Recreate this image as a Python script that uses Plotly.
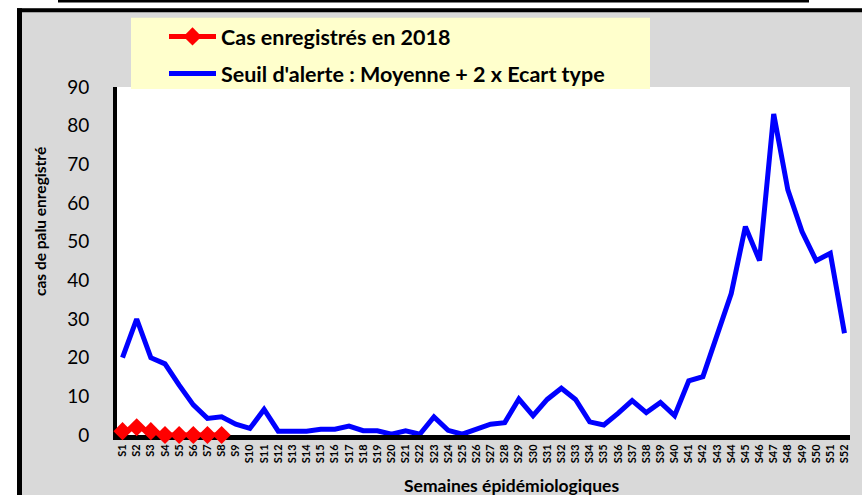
import plotly.graph_objects as go

weeks = [f"S{i}" for i in range(1, 53)]

cas_2018 = [1, 2, 1, 0, 0, 0, 0, 0]

seuil_alerte = [20, 30, 20, 18.4, 12.9, 7.8, 4.3, 4.7, 2.8, 1.7,
                6.6, 1.0, 1.0, 1.0, 1.5, 1.5, 2.3, 1.1, 1.1, 0.2,
                1.1, 0.2, 4.7, 1.2, 0.2, 1.6, 2.8, 3.2, 9.3, 5.0,
                9.2, 12.1, 9.2, 3.4, 2.6, 5.6, 8.9, 5.8, 8.4, 5.0,
                14.0, 15.1, 25.4, 36.6, 53.9, 45.1, 83.0, 63.4, 52.6, 45.1,
                47.0, 26.3]

W, H = 862, 495
L, R, T, B = 117, 12, 87, 60
PW = W - L - R
PH = H - T - B


def px(x):
    return (x - L) / PW


def py(y):
    return (H - B - y) / PH


fig = go.Figure()

fig.add_trace(go.Scatter(
    x=weeks[:len(cas_2018)], y=cas_2018, mode="lines+markers",
    name="Cas enregistrés en 2018",
    line=dict(color="#FF0000", width=5),
    marker=dict(symbol="diamond", size=14, color="#FF0000"),
    cliponaxis=False, legendgroup="a",
))
fig.add_trace(go.Scatter(
    x=weeks, y=seuil_alerte, mode="lines",
    name="Seuil d'alerte : Moyenne + 2 x Ecart type",
    line=dict(color="#0000FF", width=5),
    legendgroup="b",
))

shapes = [
    # white outside area
    dict(type="rect", xref="paper", yref="paper", x0=px(-5), x1=px(17), y0=py(500), y1=py(-5),
         fillcolor="white", line_width=0, layer="above"),
    dict(type="rect", xref="paper", yref="paper", x0=px(-5), x1=px(870), y0=py(8.3), y1=py(-5),
         fillcolor="white", line_width=0, layer="above"),
    # top page line
    dict(type="line", xref="paper", yref="paper", x0=px(58), x1=px(809), y0=py(1.2), y1=py(1.2),
         line=dict(color="black", width=2.5), layer="above"),
    # gray box borders
    dict(type="line", xref="paper", yref="paper", x0=px(17), x1=px(870), y0=py(10.3), y1=py(10.3),
         line=dict(color="black", width=4), layer="above"),
    dict(type="line", xref="paper", yref="paper", x0=px(19.5), x1=px(19.5), y0=py(8.3), y1=py(500),
         line=dict(color="black", width=5), layer="above"),
    # legend box
    dict(type="rect", xref="paper", yref="paper", x0=px(131), x1=px(650), y0=py(89), y1=py(17.7),
         fillcolor="#FFFFCC", line_width=0, layer="above"),
]

annotations = [
    dict(text="cas de palu enregistré", xref="paper", yref="paper",
         x=px(40), y=py(222), xanchor="center", yanchor="middle", showarrow=False,
         textangle=-90, font=dict(family="Lato", size=15.5, color="black", weight="bold")),
    dict(text="Semaines épidémiologiques", xref="paper", yref="paper",
         x=px(511), y=py(485), xanchor="center", yanchor="middle", showarrow=False,
         font=dict(family="Lato", size=17.5, color="black", weight="bold")),
]

fig.update_layout(
    width=W, height=H,
    margin=dict(l=L, r=R, t=T, b=B),
    paper_bgcolor="#D9D9D9",
    plot_bgcolor="white",
    showlegend=True,
    hovermode=False,
    legend=dict(
        x=px(164), y=py(16), xanchor="left", yanchor="top",
        bgcolor="rgba(0,0,0,0)", borderwidth=0,
        font=dict(family="Lato", size=21.5, color="black", weight="bold"),
        itemwidth=47, tracegroupgap=6, traceorder="grouped",
    ),
    shapes=shapes,
    annotations=annotations,
    xaxis=dict(
        type="category", categoryorder="array", categoryarray=weeks,
        range=[-0.39, 51.39],
        showline=True, linecolor="black", linewidth=5,
        showgrid=False, zeroline=False, ticks="",
        tickangle=-90,
        tickfont=dict(family="Lato", size=11, color="black", weight="bold"),
        layer="below traces",
    ),
    yaxis=dict(
        range=[0, 90], tickvals=list(range(0, 91, 10)),
        showline=True, linecolor="black", linewidth=4,
        showgrid=False, zeroline=False, ticks="",
        ticklabelstandoff=20,
        tickfont=dict(family="Lato", size=19, color="black"),
        layer="below traces",
    ),
)

fig.write_html("out.html", config={"displayModeBar": False},
               post_script="document.body.style.margin='0';document.body.style.padding='0';")
